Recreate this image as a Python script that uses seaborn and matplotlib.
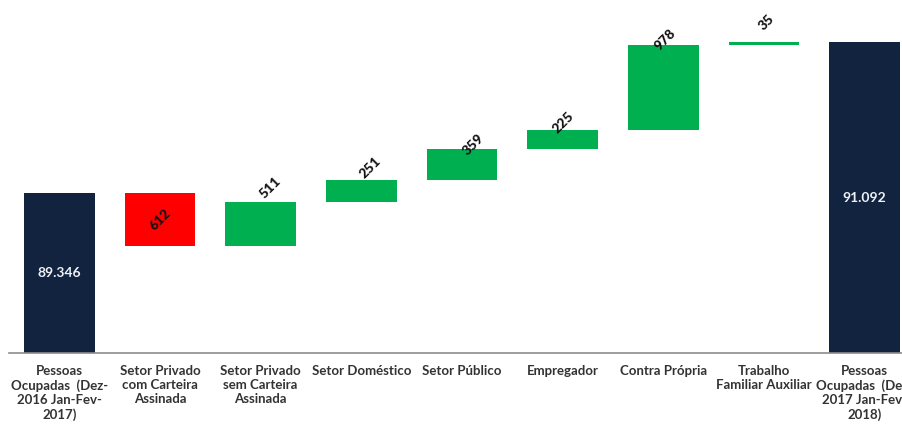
import numpy as np
import pandas as pd
import matplotlib
matplotlib.use("Agg")
import matplotlib.pyplot as plt
import seaborn as sns

# ---- data ----
categories = [
    "Pessoas\nOcupadas  (Dez-\n2016 Jan-Fev-\n2017)",
    "Setor Privado\ncom Carteira\nAssinada",
    "Setor Privado\nsem Carteira\nAssinada",
    "Setor Doméstico",
    "Setor Público",
    "Empregador",
    "Contra Própria",
    "Trabalho\nFamiliar Auxiliar",
    "Pessoas\nOcupadas  (Dez-\n2017 Jan-Fev-\n2018)",
]
start_value = 89346
deltas = [-612, 511, 251, 359, 225, 978, 35]
end_value = 91092
start_label = "89.346"
end_label = "91.092"
delta_labels = ["612", "511", "251", "359", "225", "978", "35"]

# ---- style ----
NAVY = "#12233f"
RED = "#ff0000"
GREEN = "#00b050"
YMIN, YMAX = 87502, 91583

sns.set_style("white")
plt.rcParams["font.family"] = ["Lato", "DejaVu Sans"]

# build waterfall table
cum = np.cumsum([start_value] + deltas)
bottoms = [YMIN] + [min(cum[i], cum[i + 1]) for i in range(len(deltas))] + [YMIN]
tops = [start_value] + [max(cum[i], cum[i + 1]) for i in range(len(deltas))] + [end_value]
colors = [NAVY] + [RED if d < 0 else GREEN for d in deltas] + [NAVY]
df = pd.DataFrame({"cat": categories, "top": tops, "bottom": bottoms})

fig = plt.figure(figsize=(9.03, 4.26), dpi=100)
W, H = 903, 426
ax_left, ax_right = 9, 915
ax_bottom, ax_top = 352.7, 0
ax = fig.add_axes([ax_left / W, (H - ax_bottom) / H, (ax_right - ax_left) / W, (ax_bottom - ax_top) / H])

sns.barplot(data=df, x="cat", y="top", hue="cat", palette=colors, legend=False,
            width=0.7, ax=ax, saturation=1)

# convert to floating bars
for p in ax.patches:
    idx = int(round(p.get_x() + p.get_width() / 2))
    b, t = bottoms[idx], tops[idx]
    p.set_y(b)
    p.set_height(t - b)
    p.set_linewidth(0)

ax.set_ylim(YMIN, YMAX)
ax.set_xlim(-0.5, len(categories) - 0.5)
ax.set_xlabel("")
ax.set_ylabel("")
ax.set_yticks([])
for s in ["left", "right", "top"]:
    ax.spines[s].set_visible(False)
ax.spines["bottom"].set_color("#8c8c8c")
ax.spines["bottom"].set_linewidth(1.2)

# ticks: labels at centers, marks at boundaries
ax.set_xticks(range(len(categories)))
ax.set_xticklabels(categories, fontsize=9.5, fontweight="bold", color="#333333", linespacing=1.2)
ax.tick_params(axis="x", which="major", length=0, pad=9)
ax.set_xticks(np.arange(-0.5, len(categories), 1.0), minor=True)
ax.tick_params(axis="x", which="minor", length=4, width=1, color="#8c8c8c", direction="out")

# total labels
for idx, lab in [(0, start_label), (len(categories) - 1, end_label)]:
    ax.text(idx, (YMIN + tops[idx]) / 2, lab, ha="center", va="center",
            color="#eef1f5", fontsize=10, fontweight="bold")

# delta labels (pixel offsets from bar top/centre)
label_offsets = [None, (10, 14), (9, 13), (11, 5), (1, 7), (2, 6), (2, 20)]
for i, lab in enumerate(delta_labels):
    idx = i + 1
    if deltas[i] < 0:
        ax.text(idx, (bottoms[idx] + tops[idx]) / 2, lab, ha="center", va="center",
                rotation=45, fontsize=10, fontweight="black", color="#111111")
    else:
        dx, dy = label_offsets[i]
        ax.annotate(lab, (idx, tops[idx]), xytext=(dx, dy), textcoords="offset pixels",
                    ha="center", va="center", rotation=45, fontsize=10,
                    fontweight="black", color="#111111")

fig.savefig("out.png", dpi=100)
